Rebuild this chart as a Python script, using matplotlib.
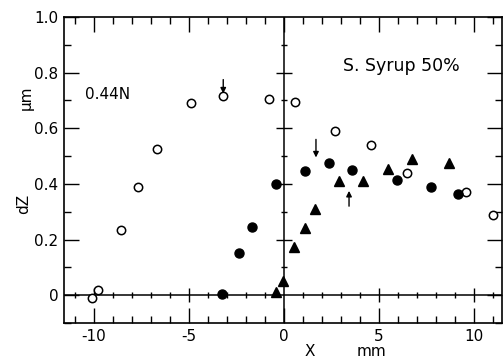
import matplotlib
matplotlib.use("Agg")
import matplotlib.pyplot as plt
import numpy as np

# Data
open_x = [-10.1, -9.8, -8.6, -7.7, -6.7, -4.9, -3.2, -0.8, 0.6, 2.7, 4.6, 6.45, 9.6, 11.0]
open_y = [-0.01, 0.02, 0.235, 0.39, 0.525, 0.69, 0.715, 0.705, 0.695, 0.59, 0.54, 0.44, 0.37, 0.29]

filled_x = [-3.25, -2.35, -1.7, -0.4, 1.1, 2.35, 3.6, 5.95, 7.75, 9.15]
filled_y = [0.005, 0.15, 0.245, 0.40, 0.445, 0.475, 0.45, 0.415, 0.39, 0.365]

tri_x = [-0.4, -0.05, 0.5, 1.1, 1.65, 2.9, 4.15, 5.45, 6.75, 8.7]
tri_y = [0.01, 0.05, 0.175, 0.24, 0.31, 0.41, 0.41, 0.455, 0.49, 0.475]

# Arrows: x, tail y, head y
arrow_x = [-3.2, 1.68, 3.42]
arrow_tail = [0.775, 0.56, 0.32]
arrow_head = [0.725, 0.495, 0.375]

x_major = [-10, -5, 0, 5, 10]
x_labels = ["-10", "-5", "0", "5", "10"]
y_major = [0, 0.2, 0.4, 0.6, 0.8, 1.0]
y_labels = ["0", "0.2", "0.4", "0.6", "0.8", "1.0"]

plt.rcParams['font.family'] = ['DejaVu Sans']

fig = plt.figure(figsize=(5.04, 3.58), dpi=100)
ax = fig.add_axes([64/504, 1-323/358, (502-64)/504, (323-17)/358])
ax.set_xlim(-11.58, 11.47)
ax.set_ylim(-0.095, 1.0)

for s in ax.spines.values():
    s.set_linewidth(1.2)

# Center cross lines
ax.axhline(0, color='black', lw=1.1, zorder=1)
ax.axvline(0, color='black', lw=1.1, zorder=1)

# ticks along center lines
hx = np.arange(-11, 12)
hx_minor = [v for v in hx if v % 5 != 0]
hx_major = [v for v in hx if v % 5 == 0 and v != 0]
ax.plot(hx_minor, np.zeros(len(hx_minor)), ls='none', marker='|', ms=4, mew=1.0, color='black', zorder=1)
ax.plot(hx_major, np.zeros(len(hx_major)), ls='none', marker='|', ms=10, mew=1.0, color='black', zorder=1)
vy = np.round(np.arange(0.1, 1.0, 0.1), 2)
vy_minor = [v for v in vy if round(v * 10) % 2 == 1]
vy_major = [v for v in vy if round(v * 10) % 2 == 0]
ax.plot(np.zeros(len(vy_minor)), vy_minor, ls='none', marker='_', ms=5, mew=1.0, color='black', zorder=1)
ax.plot(np.zeros(len(vy_major)), vy_major, ls='none', marker='_', ms=11, mew=1.0, color='black', zorder=1)

# Data marks
ax.plot(open_x, open_y, ls='none', marker='o', ms=6, mfc='white', mec='black', mew=1.1, zorder=3, clip_on=False)
ax.plot(filled_x, filled_y, ls='none', marker='o', ms=6.5, mfc='black', mec='black', zorder=3)
ax.plot(tri_x, tri_y, ls='none', marker='^', ms=6.5, mfc='black', mec='black', zorder=3)

for xa, yt, yh in zip(arrow_x, arrow_tail, arrow_head):
    ax.annotate('', xy=(xa, yh), xytext=(xa, yt),
                arrowprops=dict(arrowstyle='-|>', color='black', lw=1.0,
                                mutation_scale=8, shrinkA=0, shrinkB=0))

# Axis ticks
ax.set_xticks(x_major)
ax.set_xticklabels(x_labels)
ax.set_xticks(np.arange(-11, 12), minor=True)
ax.set_yticks(y_major)
ax.set_yticklabels(y_labels)
ax.set_yticks(np.round(np.arange(-0.1, 1.01, 0.1), 2), minor=True)
ax.tick_params(axis='both', which='both', direction='in', top=True, right=True,
               labelsize=11, width=1.0, color='black')
ax.tick_params(axis='both', which='major', length=11)
ax.tick_params(axis='both', which='minor', length=5)
ax.tick_params(axis='x', which='major', pad=4)
ax.tick_params(axis='y', which='major', pad=4)

# Labels
ax.text(-10.45, 0.72, "0.44N", fontsize=11, va='center', ha='left')
ax.text(3.1, 0.825, "S. Syrup 50%", fontsize=12.5, va='center', ha='left')

fig.text(26/504, 1-98/358, "μm", rotation=90, fontsize=11, ha='center', va='center')
fig.text(24/504, 1-204/358, "dZ", rotation=90, fontsize=11, ha='center', va='center')
fig.text(310/504, 1-351/358, "X", fontsize=11, ha='center', va='center')
fig.text(371/504, 1-351/358, "mm", fontsize=11, ha='center', va='center')

fig.savefig("out.png", dpi=100)
